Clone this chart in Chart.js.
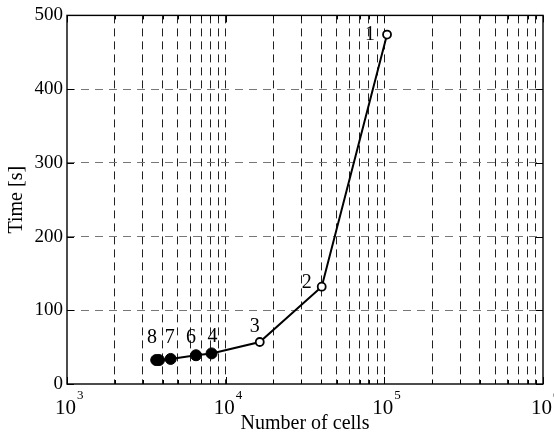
<!DOCTYPE html>
<html><head><meta charset="utf-8">
<script src="https://cdn.jsdelivr.net/npm/chart.js@4"></script>
<style>html,body{margin:0;padding:0;background:#fff}</style>
</head><body><canvas id="c" width="554" height="433"></canvas>
<script>
// ---- data ----
const pointLabels = ['1','2','3','4','5','6','7','8'];
const cells = [104000, 40300, 16400, 8150, 3650, 6500, 4500, 3800];
const times = [474, 132, 57, 41.5, 32.5, 39, 34, 32.5];
const openMarker = [true, true, true, false, false, false, false, false];
const showLabel = [true, true, true, true, false, true, true, true];
const yTicks = [0, 100, 200, 300, 400, 500];
const xDecades = [1e3, 1e4, 1e5, 1e6];
const xExponents = ['3', '4', '5', '6'];
const xTitle = 'Number of cells';
const yTitle = 'Time [s]';

// ---- build ----
const xTicks = [];
for (let d = 0; d < xDecades.length; d++) {
  xTicks.push(xDecades[d]);
  if (d < xDecades.length - 1) for (let m = 2; m <= 9; m++) xTicks.push(xDecades[d] * m);
}
const order = cells.map((c, i) => i).sort((a, b) => cells[a] - cells[b]);
const pts = order.map(i => ({x: cells[i], y: times[i], idx: i}));

const SERIF = '"Liberation Serif", "Times New Roman", serif';
const labelOffsets = {'1': [-17, 0], '2': [-15, -4], '3': [-5, -15], '4': [1, -17], '6': [-5, -17], '7': [-1, -21], '8': [-7, -22]};

const decor = {
  id: 'decor',
  afterDraw(chart) {
    const ctx = chart.ctx, a = chart.chartArea;
    const xs = chart.scales.x, ys = chart.scales.y;
    ctx.save();
    ctx.strokeStyle = '#000';
    ctx.lineWidth = 1;
    ctx.setLineDash([]);
    // inward ticks
    ctx.beginPath();
    xTicks.forEach(v => {
      const px = Math.round(xs.getPixelForValue(v)) + 0.5;
      const major = xDecades.includes(v);
      const L = major ? 7 : 4;
      ctx.moveTo(px, a.bottom); ctx.lineTo(px, a.bottom - L);
      ctx.moveTo(px, a.top); ctx.lineTo(px, a.top + L);
    });
    yTicks.forEach(v => {
      const py = Math.round(ys.getPixelForValue(v)) + 0.5;
      ctx.moveTo(a.left, py); ctx.lineTo(a.left + 7, py);
      ctx.moveTo(a.right, py); ctx.lineTo(a.right - 7, py);
    });
    ctx.stroke();
    // frame
    ctx.lineWidth = 1.4;
    ctx.strokeRect(a.left, a.top, a.right - a.left, a.bottom - a.top);
    // x tick labels 10^k
    ctx.fillStyle = '#000';
    ctx.textBaseline = 'alphabetic';
    xDecades.forEach((v, i) => {
      const px = xs.getPixelForValue(v);
      ctx.font = '21px ' + SERIF;
      ctx.textAlign = 'right';
      ctx.fillText('10', px + 9, a.bottom + 30);
      ctx.font = '13px ' + SERIF;
      ctx.textAlign = 'left';
      ctx.fillText(xExponents[i], px + 10, a.bottom + 15);
    });
    // axis titles
    ctx.font = '20px ' + SERIF;
    ctx.textAlign = 'center';
    ctx.fillText(xTitle, (a.left + a.right) / 2, 429);
    ctx.save();
    ctx.translate(17, (a.top + a.bottom) / 2);
    ctx.rotate(-Math.PI / 2);
    ctx.textBaseline = 'middle';
    ctx.fillText(yTitle, 0, 0);
    ctx.restore();
    // point labels
    const meta = chart.getDatasetMeta(0);
    ctx.font = '20px ' + SERIF;
    ctx.textBaseline = 'middle';
    ctx.textAlign = 'center';
    meta.data.forEach((el, k) => {
      const i = pts[k].idx;
      if (!showLabel[i]) return;
      const off = labelOffsets[pointLabels[i]] || [0, -16];
      ctx.fillText(pointLabels[i], el.x + off[0], el.y + off[1]);
    });
    ctx.restore();
  }
};

new Chart(document.getElementById('c'), {
  type: 'scatter',
  data: {
    datasets: [{
      data: pts,
      showLine: true,
      borderColor: '#000',
      borderWidth: 2,
      pointRadius: c => openMarker[pts[c.dataIndex].idx] ? 4 : 5.5,
      pointBackgroundColor: c => openMarker[pts[c.dataIndex].idx] ? '#fff' : '#000',
      pointBorderColor: '#000',
      pointBorderWidth: c => openMarker[pts[c.dataIndex].idx] ? 1.8 : 1
    }]
  },
  options: {
    responsive: false,
    animation: false,
    devicePixelRatio: 1,
    layout: {padding: {top: 14, right: 11, left: 0, bottom: 0}},
    plugins: {legend: {display: false}, tooltip: {enabled: false}},
    scales: {
      x: {
        type: 'logarithmic', min: 1e3, max: 1e6,
        afterBuildTicks: s => { s.ticks = xTicks.map(v => ({value: v})); },
        afterFit: s => { s.height = 49; },
        ticks: {display: false},
        grid: {
          drawTicks: false, lineWidth: 1,
          color: c => (c.tick && (c.tick.value === 1e3 || c.tick.value === 1e6)) ? 'rgba(0,0,0,0)' : '#222'
        },
        border: {display: false, dash: [8, 5]}
      },
      y: {
        min: 0, max: 500,
        afterBuildTicks: s => { s.ticks = yTicks.map(v => ({value: v})); },
        afterFit: s => { s.width = 67; },
        ticks: {font: {family: SERIF, size: 19}, color: '#000', padding: 4},
        grid: {
          drawTicks: false, lineWidth: 1,
          color: c => (c.tick && (c.tick.value === 0 || c.tick.value === 500)) ? 'rgba(0,0,0,0)' : '#777'
        },
        border: {display: false, dash: [8, 6]}
      }
    }
  },
  plugins: [decor]
});
</script>
</body></html>
